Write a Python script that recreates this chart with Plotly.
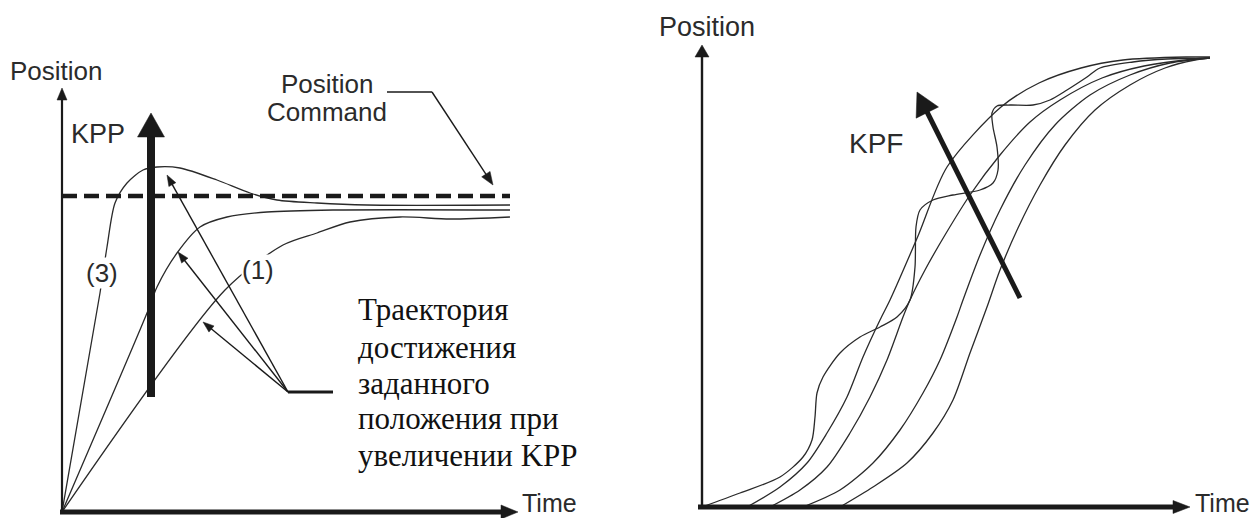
import math
import plotly.graph_objects as go

# ---------------- data (arbitrary units) ----------------
# LEFT panel: Position response for increasing KPP
left_command_level = 316
left_command_t = [0, 448]

curve3_t = [0, 38, 45, 53, 65, 81, 95, 118, 155, 188, 215, 255, 305, 448]
curve3_p = [0, 219, 265, 309, 329, 342, 345, 344, 332, 319, 312, 309, 307, 307]

curve2_t = [0, 85, 95, 115, 138, 165, 205, 271, 448]
curve2_p = [0, 199, 225, 259, 285, 295, 300, 302, 302]

curve1_t = [0, 163, 221, 255, 288, 338, 388, 448]
curve1_p = [0, 222, 267, 279, 290, 295, 293, 295]

left_axis_len_t = 456
left_axis_len_p = 424

kpp_arrow_t = [89, 89]
kpp_arrow_p = [115, 399]

pointer_origin = (226, 120)
pointer_target_t = [105, 116, 141]
pointer_target_p = [337, 260, 190]
bracket_t = [226, 271]
bracket_p = [120, 120]

cmd_leader_t = [325, 370, 431]
cmd_leader_p = [420, 420, 327]

# RIGHT panel: Position response for increasing KPF
curveA_t = [0, 38, 78, 101, 110, 113, 115, 121, 138, 158, 178, 195, 208, 213, 214, 218,
            231, 251, 278, 291, 296, 295, 291, 290, 295, 308, 331, 348, 365, 385, 398,
            431, 465, 508]
curveA_p = [0, 14, 30, 50, 67, 90, 114, 130, 154, 170, 180, 190, 207, 240, 280, 297,
            307, 312, 317, 324, 337, 360, 380, 394, 401, 402, 402, 407, 417, 430, 439,
            445, 448, 449]

curveB_t = [45, 78, 105, 125, 145, 161, 178, 188, 216, 245, 299, 337, 379, 421, 484, 508]
curveB_p = [0, 20, 44, 74, 110, 150, 187, 207, 271, 340, 400, 424, 439, 447, 450, 450]

curveC_t = [68, 98, 125, 148, 168, 185, 201, 208, 223, 243, 268, 298, 328, 358, 400, 442, 492, 508]
curveC_p = [0, 17, 40, 74, 110, 147, 190, 207, 237, 272, 312, 352, 385, 407, 429, 441, 448, 449]

curveD_t = [101, 138, 171, 198, 221, 238, 255, 261, 278, 298, 323, 353, 388, 428, 468, 508]
curveD_p = [0, 17, 44, 77, 114, 147, 190, 207, 252, 297, 342, 382, 412, 432, 444, 449]

curveE_t = [138, 171, 205, 231, 251, 268, 285, 298, 316, 338, 363, 393, 428, 463, 493, 508]
curveE_p = [0, 20, 44, 74, 107, 154, 200, 237, 279, 322, 362, 397, 422, 439, 447, 449]

right_axis_len_t = 488
right_axis_len_p = 462

kpf_arrow_t = [318, 215]
kpf_arrow_p = [209, 415]

ru_lines = ["Траектория", "достижения", "заданного", "положения при", "увеличении KPP"]
ru_line_p = [203, 165, 129, 94, 57]

# ---------------- figure ----------------
fig = go.Figure()
INK = "#1a1a1a"
CURVE = "#2a2a2a"


def add_arrow(xa, ya, t0, p0, t1, p1, lw, hl, hw, color=INK):
    L = math.hypot(t1 - t0, p1 - p0)
    ux, uy = (t1 - t0) / L, (p1 - p0) / L
    bx, by = t1 - ux * hl, p1 - uy * hl
    fig.add_trace(go.Scatter(x=[t0, bx + ux * 1.5], y=[p0, by + uy * 1.5], mode="lines",
                             line=dict(color=color, width=lw), xaxis=xa, yaxis=ya,
                             hoverinfo="skip"))
    fig.add_trace(go.Scatter(x=[t1, bx - uy * hw / 2, bx + uy * hw / 2, t1],
                             y=[p1, by + ux * hw / 2, by - ux * hw / 2, p1],
                             mode="lines", fill="toself", fillcolor=color,
                             line=dict(color=color, width=0.5), xaxis=xa, yaxis=ya,
                             hoverinfo="skip"))


def add_curve(xa, ya, t, p, width=1.3, color=CURVE):
    fig.add_trace(go.Scatter(x=t, y=p, mode="lines",
                             line=dict(color=color, width=width, shape="spline", smoothing=0.8),
                             xaxis=xa, yaxis=ya, hoverinfo="skip"))


# left curves
for t, p in [(curve3_t, curve3_p), (curve2_t, curve2_p), (curve1_t, curve1_p)]:
    add_curve("x", "y", t, p)

# command (dashed)
fig.add_trace(go.Scatter(x=left_command_t, y=[left_command_level] * 2, mode="lines",
                         line=dict(color=INK, width=4.5, dash="15px,7px"),
                         xaxis="x", yaxis="y", hoverinfo="skip"))

# left axes
add_arrow("x", "y", 0, 0, 0, left_axis_len_p, 2.2, 12, 10)
add_arrow("x", "y", -2, 0, left_axis_len_t, 0, 5, 17, 14)

# KPP thick arrow
add_arrow("x", "y", kpp_arrow_t[0], kpp_arrow_p[0], kpp_arrow_t[1], kpp_arrow_p[1], 8, 24, 27)

# pointers
for tt, pp in zip(pointer_target_t, pointer_target_p):
    add_arrow("x", "y", pointer_origin[0], pointer_origin[1], tt, pp, 1.4, 11, 8)
fig.add_trace(go.Scatter(x=bracket_t, y=bracket_p, mode="lines",
                         line=dict(color=INK, width=3), xaxis="x", yaxis="y", hoverinfo="skip"))

# position command leader
fig.add_trace(go.Scatter(x=cmd_leader_t[:2], y=cmd_leader_p[:2], mode="lines",
                         line=dict(color=INK, width=1.4), xaxis="x", yaxis="y", hoverinfo="skip"))
add_arrow("x", "y", cmd_leader_t[1], cmd_leader_p[1], cmd_leader_t[2], cmd_leader_p[2], 1.4, 13, 10)

# right curves
for t, p in [(curveE_t, curveE_p), (curveD_t, curveD_p), (curveC_t, curveC_p),
             (curveB_t, curveB_p), (curveA_t, curveA_p)]:
    add_curve("x2", "y2", t, p)

# right axes
add_arrow("x2", "y2", 0, 0, 0, right_axis_len_p, 2.4, 12, 14)
add_arrow("x2", "y2", -4, 0, right_axis_len_t, 0, 5, 17, 13)

# KPF arrow
add_arrow("x2", "y2", kpf_arrow_t[0], kpf_arrow_p[0], kpf_arrow_t[1], kpf_arrow_p[1], 5, 23, 25)

SANS = "Liberation Sans, Arial, sans-serif"
SERIF = "Liberation Serif, Times New Roman, serif"
TXT = "#2b2b2b"

ann = []


def label(text, x, y, xref, yref, size, xanchor="center", yanchor="middle", font=SANS,
          color=TXT, bg=None, align="center"):
    d = dict(text=text, x=x, y=y, xref=xref, yref=yref, showarrow=False,
             font=dict(family=font, size=size, color=color), xanchor=xanchor,
             yanchor=yanchor, align=align, borderpad=0)
    if bg:
        d["bgcolor"] = bg
    ann.append(d)


label("Position", -6, 441, "x", "y", 26)
label("KPP", 36, 378, "x", "y", 27)
label("Position", 265, 428, "x", "y", 26)
label("Command", 265, 400, "x", "y", 26)
label("(3)", 40, 239, "x", "y", 26, bg="white")
label("(1)", 196, 242, "x", "y", 26, bg="white")
label("Time", 459, 9, "x", "y", 25, xanchor="left")
for line, pp in zip(ru_lines, ru_line_p):
    label(line, 295, pp, "x", "y", 31, xanchor="left", font=SERIF, color="#111", align="left")

label("Position", 5, 480, "x2", "y2", 27)
label("KPF", 174, 364, "x2", "y2", 28)
label("Time", 492, 4, "x2", "y2", 25, xanchor="left")

fig.update_layout(
    width=1256, height=518,
    margin=dict(l=0, r=0, t=0, b=0, pad=0),
    paper_bgcolor="white", plot_bgcolor="white",
    showlegend=False, hovermode=False,
    xaxis=dict(domain=[0, 0.5], range=[-62, 566], visible=False, fixedrange=True),
    yaxis=dict(domain=[0, 1], range=[-6, 512], visible=False, fixedrange=True),
    xaxis2=dict(domain=[0.5, 1], range=[-74, 554], visible=False, anchor="y2", fixedrange=True),
    yaxis2=dict(domain=[0, 1], range=[-11, 507], visible=False, anchor="x2", fixedrange=True),
    annotations=ann,
)

fig.write_html("out.html", config={"displayModeBar": False},
               post_script="document.body.style.margin='0';")
